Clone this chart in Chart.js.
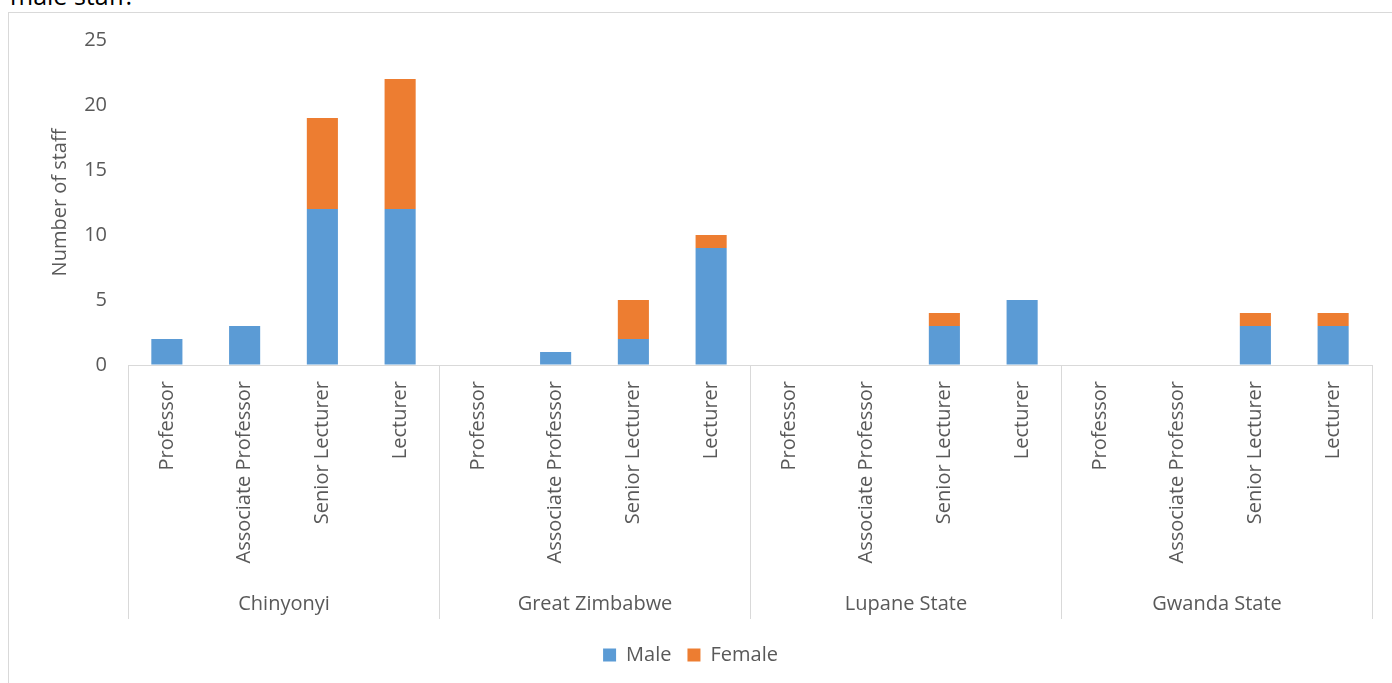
<!DOCTYPE html>
<html>
<head>
<meta charset="utf-8">
<script src="https://cdn.jsdelivr.net/npm/chart.js@4/dist/chart.umd.min.js"></script>
<style>
  html, body { margin: 0; padding: 0; background: #fff; overflow: hidden; }
  body { width: 1392px; height: 683px; position: relative; font-family: "Open Sans", sans-serif; }
  #caption { position: absolute; left: 10px; top: -22px; font-size: 25px; color: #000; }
  #box { position: absolute; left: 8px; top: 12px; width: 1400px; height: 700px; border: 1px solid #d9d9d9; box-sizing: border-box; }
  #wrap { position: absolute; left: 9px; top: 13px; width: 1383px; height: 670px; }
</style>
</head>
<body>
<div id="caption">male staff.</div>
<div id="box"></div>
<div id="wrap"><canvas id="chart"></canvas></div>
<script>
  var groups = ["Chinyonyi", "Great Zimbabwe", "Lupane State", "Gwanda State"];
  var ranks = ["Professor", "Associate Professor", "Senior Lecturer", "Lecturer"];
  var maleValues = [2, 3, 12, 12, 0, 1, 2, 9, 0, 0, 3, 5, 0, 0, 3, 3];
  var femaleValues = [0, 0, 7, 10, 0, 0, 3, 1, 0, 0, 1, 0, 0, 0, 1, 1];
  var yTicks = [0, 5, 10, 15, 20, 25];

  var labels = [];
  groups.forEach(function () {
    ranks.forEach(function (r) { labels.push(r); });
  });

  var textColor = "#595959";
  var lineColor = "#d9d9d9";
  var fontFamily = "'Open Sans', sans-serif";

  // outer group labels and separators under the category axis
  var groupAxis = {
    id: "groupAxis",
    afterDraw: function (chart) {
      var x = chart.scales.x;
      var area = chart.chartArea;
      var ctx = chart.ctx;
      var per = ranks.length;
      var depth = 254;
      ctx.save();
      ctx.strokeStyle = lineColor;
      ctx.lineWidth = 1;
      ctx.fillStyle = textColor;
      ctx.font = "20px " + fontFamily;
      ctx.textAlign = "center";
      ctx.textBaseline = "middle";
      var edges = [];
      for (var g = 0; g <= groups.length; g++) {
        var px;
        if (g === 0) px = area.left;
        else if (g === groups.length) px = area.right;
        else px = (x.getPixelForValue(g * per - 1) + x.getPixelForValue(g * per)) / 2;
        edges.push(Math.round(px) + 0.5);
      }
      edges.forEach(function (px) {
        ctx.beginPath();
        ctx.moveTo(px, area.bottom);
        ctx.lineTo(px, area.bottom + depth);
        ctx.stroke();
      });
      groups.forEach(function (name, i) {
        ctx.fillText(name, (edges[i] + edges[i + 1]) / 2, area.bottom + depth - 15);
      });
      ctx.restore();
    }
  };

  new Chart(document.getElementById("chart"), {
    type: "bar",
    data: {
      labels: labels,
      datasets: [
        { label: "Male", data: maleValues, backgroundColor: "#5b9bd5", barPercentage: 0.8, categoryPercentage: 0.5 },
        { label: "Female", data: femaleValues, backgroundColor: "#ed7d31", barPercentage: 0.8, categoryPercentage: 0.5 }
      ]
    },
    options: {
      responsive: true,
      maintainAspectRatio: false,
      animation: false,
      layout: { padding: { top: 27, right: 20, bottom: 8, left: 0 } },
      plugins: {
        legend: {
          position: "bottom",
          labels: {
            boxWidth: 13,
            boxHeight: 13,
            color: textColor,
            font: { family: fontFamily, size: 20 },
            padding: 16
          }
        },
        tooltip: { enabled: false }
      },
      scales: {
        x: {
          stacked: true,
          grid: { display: false },
          border: { display: true, color: lineColor, width: 1 },
          ticks: {
            autoSkip: false,
            minRotation: 90,
            maxRotation: 90,
            padding: 8,
            color: textColor,
            font: { family: fontFamily, size: 20 }
          },
          afterFit: function (scale) { scale.height = 264; }
        },
        y: {
          stacked: true,
          min: 0,
          max: 25,
          afterBuildTicks: function (scale) {
            scale.ticks = yTicks.map(function (v) { return { value: v }; });
          },
          // invisible tick marks keep the labels away from the axis
          grid: { display: true, drawOnChartArea: false, drawTicks: true, tickLength: 21, color: "rgba(0,0,0,0)" },
          border: { display: false },
          ticks: {
            padding: 0,
            color: textColor,
            font: { family: fontFamily, size: 20 }
          },
          title: {
            display: true,
            text: "Number of staff",
            color: textColor,
            font: { family: fontFamily, size: 20 },
            padding: { top: 39, bottom: 4 }
          },
          afterFit: function (scale) { scale.width = 119; }
        }
      }
    },
    plugins: [groupAxis]
  });
</script>
</body>
</html>
